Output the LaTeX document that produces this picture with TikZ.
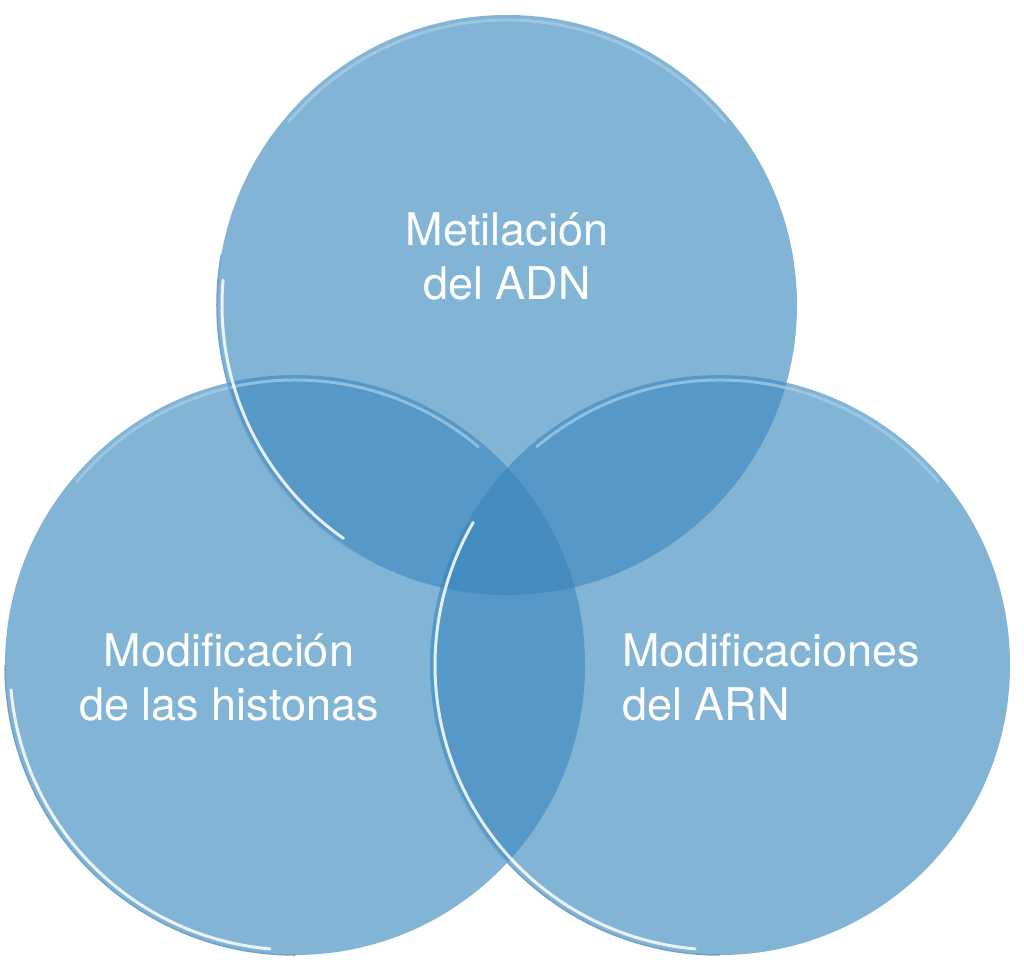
\documentclass[tikz,border=0pt]{standalone}
\usepackage{fontspec}
\setmainfont{TeX Gyre Heros}
\definecolor{cOne}{HTML}{82B4D5}
\definecolor{cTwo}{HTML}{5698C7}
\definecolor{cThree}{HTML}{448CC0}
\definecolor{cRim}{HTML}{A9CFE8}
\definecolor{cEdge}{HTML}{6FA3C8}
\begin{document}
\begin{tikzpicture}[x=1pt,y=1pt,
  lbl/.style={text=white,font=\fontsize{45}{54}\selectfont,inner sep=0pt},
  shine/.style={white,line width=3pt,opacity=0.85,line cap=round},
  edge/.style={cEdge,line width=1.5pt},
  rim/.style={cRim,line width=3pt,opacity=0.7,line cap=round}]
\useasboundingbox[fill=white] (0,0) rectangle (1024,967);
\coordinate (T) at (507,662);
\coordinate (L) at (295,302);
\coordinate (R) at (720,302);
\def\rr{290}
\def\rs{285}
% single fills
\fill[cOne] (T) circle (\rr);
\fill[cOne] (L) circle (\rr);
\fill[cOne] (R) circle (\rr);
% double overlaps
\begin{scope}\clip (T) circle (\rr); \fill[cTwo] (L) circle (\rr); \fill[cTwo] (R) circle (\rr);\end{scope}
\begin{scope}\clip (L) circle (\rr); \fill[cTwo] (R) circle (\rr);\end{scope}
% triple overlap
\begin{scope}\clip (T) circle (\rr); \clip (L) circle (\rr); \fill[cThree] (R) circle (\rr);\end{scope}
% rims and shine
\draw[rim] (T) ++(40:\rs) arc (40:140:\rs);
\draw[rim] (L) ++(50:\rs) arc (50:140:\rs);
\draw[rim] (R) ++(40:\rs) arc (40:130:\rs);
\draw[edge] (T) ++(170:\rr) arc (170:240:\rr);
\draw[edge] (L) ++(180:\rr) arc (180:270:\rr);
\draw[edge] (R) ++(200:\rr) arc (200:270:\rr);
\draw[shine] (T) ++(175:\rs) arc (175:235:\rs);
\draw[shine] (L) ++(185:\rs) arc (185:265:\rs);
\draw[shine] (R) ++(150:\rs) arc (150:265:\rs);
% labels
\node[lbl,align=center] (tTop) at (507,711) {Metilación\\del ADN};
\node[lbl,align=center] (tLeft) at (229,290) {Modificación\\de las histonas};
\node[lbl,align=left,anchor=west] (tRight) at (622,290) {Modificaciones\\del ARN};
\end{tikzpicture}
\end{document}
